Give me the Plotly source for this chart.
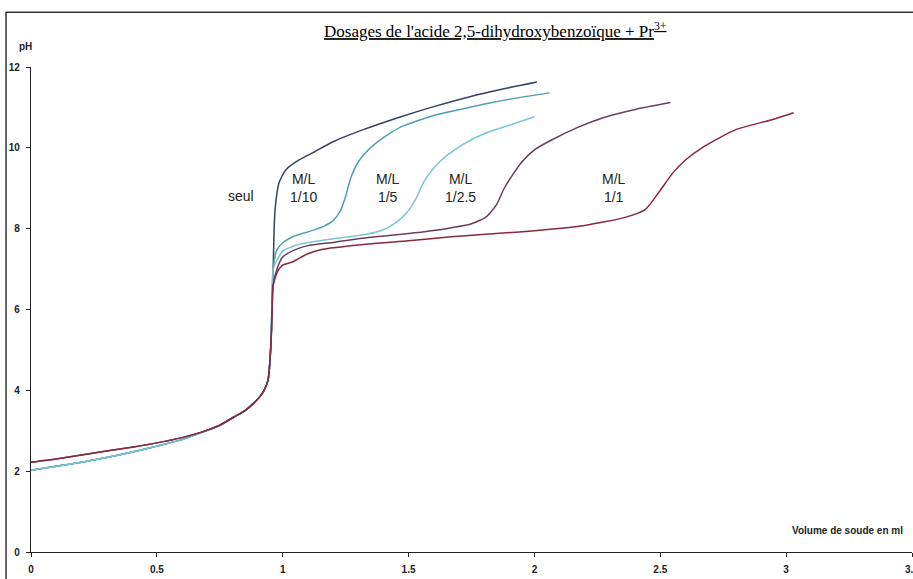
import plotly.graph_objects as go

# ---- data ----
low_x = [0, 0.1, 0.2, 0.3, 0.407, 0.5, 0.6, 0.674, 0.75, 0.806, 0.85, 0.886, 0.91, 0.926, 0.942, 0.95, 0.955, 0.958, 0.962]
low_y_a = [2.02, 2.12, 2.22, 2.34, 2.48, 2.62, 2.78, 2.95, 3.13, 3.34, 3.5, 3.69, 3.85, 4.0, 4.26, 4.8, 5.5, 6.3, 7.0]
low_y_b = [2.22, 2.3, 2.4, 2.5, 2.6, 2.7, 2.83, 2.96, 3.14, 3.34, 3.5, 3.69, 3.85, 4.0, 4.26, 4.8, 5.4, 6.0, 6.6]

seul_x = low_x + [0.966, 0.97, 0.985, 1.013, 1.065, 1.12, 1.2, 1.32, 1.47, 1.6, 1.74, 1.87, 2.01]
seul_y = low_y_a + [8.0, 8.5, 9.13, 9.46, 9.7, 9.88, 10.15, 10.45, 10.77, 11.02, 11.26, 11.45, 11.63]

ml10_x = low_x + [0.975, 1.0, 1.04, 1.1, 1.16, 1.2, 1.23, 1.25, 1.27, 1.3, 1.34, 1.4, 1.47, 1.6, 1.74, 1.9, 2.06]
ml10_y = low_y_a + [7.45, 7.65, 7.8, 7.92, 8.05, 8.2, 8.45, 8.8, 9.25, 9.65, 9.95, 10.25, 10.52, 10.8, 11.0, 11.2, 11.36]

ml5_x = low_x + [0.98, 1.0, 1.07, 1.2, 1.3, 1.39, 1.45, 1.5, 1.53, 1.56, 1.6, 1.65, 1.72, 1.8, 1.9, 2.0]
ml5_y = low_y_a + [7.25, 7.45, 7.62, 7.75, 7.83, 7.95, 8.15, 8.45, 8.75, 9.15, 9.5, 9.8, 10.1, 10.35, 10.56, 10.77]

ml25_x = low_x + [0.98, 1.0, 1.05, 1.1, 1.2, 1.34, 1.5, 1.65, 1.75, 1.81, 1.85, 1.88, 1.91, 1.95, 2.0, 2.07, 2.17, 2.27, 2.4, 2.54]
ml25_y = low_y_b + [7.05, 7.3, 7.48, 7.58, 7.66, 7.78, 7.88, 8.0, 8.12, 8.3, 8.6, 9.0, 9.3, 9.65, 9.95, 10.2, 10.5, 10.74, 10.95, 11.12]

ml1_x = low_x + [0.98, 1.0, 1.04, 1.06, 1.1, 1.15, 1.34, 1.5, 1.67, 1.94, 2.2, 2.36, 2.44, 2.5, 2.55, 2.6, 2.67, 2.8, 2.94, 3.03]
ml1_y = low_y_b + [6.95, 7.1, 7.18, 7.25, 7.38, 7.48, 7.62, 7.7, 7.8, 7.92, 8.08, 8.28, 8.47, 8.95, 9.38, 9.7, 10.02, 10.45, 10.69, 10.87]

label_text = ["seul", "M/L<br>1/10", "M/L<br>1/5", "M/L<br>1/2.5", "M/L<br>1/1"]
label_x = [0.834, 1.081, 1.417, 1.708, 2.318]
label_y = [8.81, 9.0, 9.0, 9.0, 9.0]

x_ticks = [0, 0.5, 1, 1.5, 2, 2.5, 3, 3.5]
x_ticktext = ["0", "0.5", "1", "1.5", "2", "2.5", "3", "3.5"]
y_ticks = [0, 2, 4, 6, 8, 10, 12]

series = [
    ("seul", seul_x, seul_y, "#34435f"),
    ("M/L 1/10", ml10_x, ml10_y, "#4d9fb1"),
    ("M/L 1/5", ml5_x, ml5_y, "#79c6d6"),
    ("M/L 1/2.5", ml25_x, ml25_y, "#6a3f5c"),
    ("M/L 1/1", ml1_x, ml1_y, "#862b3e"),
]

W, H = 913, 579

fig = go.Figure()

# chart-area frame (top and left border of the scanned chart), drawn on a full-page overlay axis
fig.add_trace(go.Scatter(x=[0.0066, 0.0066, 1.0], y=[0.0, 0.979, 0.979], mode="lines",
                         xaxis="x2", yaxis="y2", line=dict(color="#333", width=1.5),
                         hoverinfo="skip", showlegend=False))

for name, xs, ys, col in series:
    fig.add_trace(go.Scatter(x=xs, y=ys, mode="lines", name=name,
                             line=dict(color=col, width=1.5, shape="spline", smoothing=0.6),
                             showlegend=False))

for t, x, y in zip(label_text, label_x, label_y):
    fig.add_annotation(x=x, y=y, text=t, showarrow=False,
                       font=dict(family="Liberation Sans, Arial", size=14, color="#222"),
                       align="center")

tickfont = dict(family="Liberation Sans Narrow, Arial Narrow, Liberation Sans", size=10, color="#222", weight="bold")

fig.update_layout(
    width=W, height=H,
    margin=dict(l=0, r=0, t=0, b=0, autoexpand=False),
    paper_bgcolor="white", plot_bgcolor="rgba(0,0,0,0)",
    xaxis=dict(range=[0, 3.5], domain=[31 / W, 912 / W], tickvals=x_ticks, ticktext=x_ticktext,
               showgrid=False, zeroline=False,
               showline=True, linecolor="#222", linewidth=1.3, ticks="outside", ticklen=4,
               tickcolor="#222", tickfont=tickfont, ticklabelstandoff=4, ticklabeloverflow="allow",
               automargin=False),
    yaxis=dict(range=[0, 12], domain=[(H - 552) / H, (H - 67) / H], tickvals=y_ticks,
               showgrid=False, zeroline=False,
               showline=True, linecolor="#222", linewidth=1.3, ticks="outside", ticklen=4,
               tickcolor="#222", tickfont=tickfont, ticklabelstandoff=4, ticklabeloverflow="allow",
               automargin=False),
    xaxis2=dict(range=[0, 1], domain=[0, 1], anchor="y2", visible=False, fixedrange=True),
    yaxis2=dict(range=[0, 1], domain=[0, 1], anchor="x2", visible=False, fixedrange=True),
)

# title
fig.add_annotation(xref="paper", yref="paper", x=495 / W, y=(H - 30) / H, xanchor="center", yanchor="middle",
                   text="<u>Dosages de l'acide 2,5-dihydroxybenzoïque + Pr<sup>3+</sup></u>",
                   showarrow=False, font=dict(family="Liberation Serif, Times New Roman", size=17, color="#000"))
# axis titles
fig.add_annotation(xref="paper", yref="paper", x=25 / W, y=(H - 47) / H, xanchor="center", yanchor="middle",
                   text="pH", showarrow=False, font=tickfont)
fig.add_annotation(xref="paper", yref="paper", x=905 / W, y=(H - 530) / H, xanchor="right", yanchor="middle",
                   text="Volume de soude en ml", showarrow=False, font=tickfont)

fig.write_html("out.html", config={"displayModeBar": False},
               post_script="document.body.style.margin='0';document.body.style.overflow='hidden';")
